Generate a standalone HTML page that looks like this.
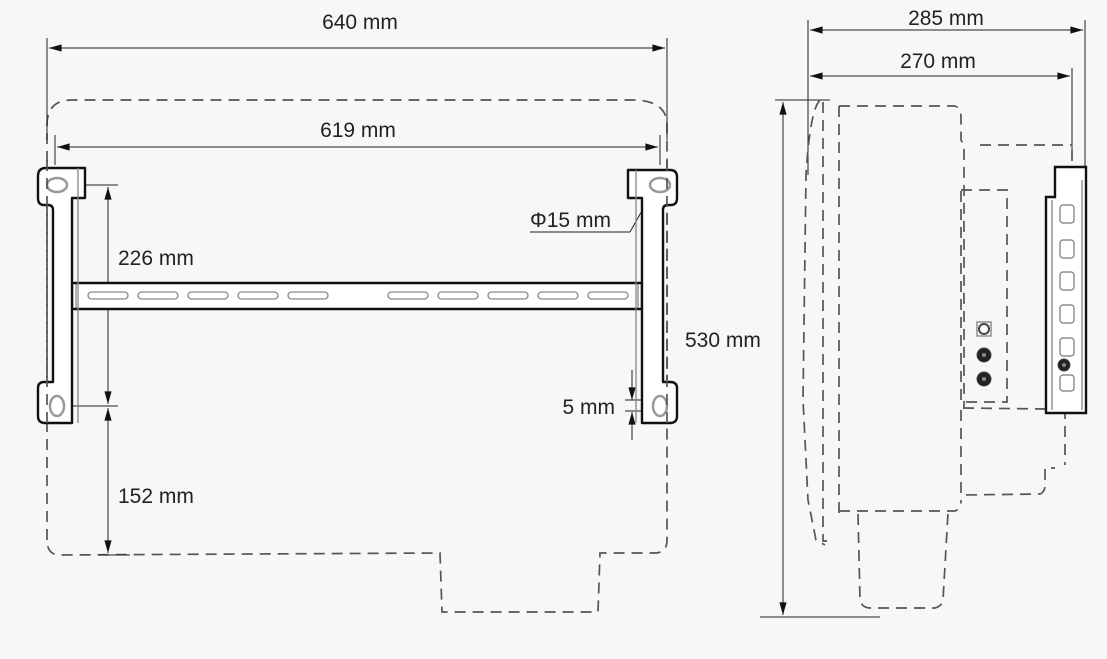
<!DOCTYPE html>
<html><head><meta charset="utf-8"><style>
html,body{margin:0;padding:0;background:#f7f7f7;}
svg{display:block;font-family:"Liberation Sans",sans-serif;}
</style></head><body>
<svg width="1107" height="659" viewBox="0 0 1107 659" xmlns="http://www.w3.org/2000/svg">
<defs>
<marker id="a" viewBox="0 0 14 10" refX="14" refY="5" markerWidth="14" markerHeight="9" orient="auto-start-reverse" markerUnits="userSpaceOnUse"><path d="M0,1 L14,5 L0,9 z" fill="#111"/></marker>
</defs>
<rect width="1107" height="659" fill="#f7f7f7"/>
<g fill="none" stroke="#555" stroke-width="1.7" stroke-dasharray="11,7">
<path d="M47,540 L47,125 Q47,100 72,100 L632,100 Q667,100 667,125 L667,540 Q667,553 655,553 L600,553 L598,612 L442,612 L440,553 L60,555 Q47,555 47,540"/>
</g>
<g stroke="#222" stroke-width="1">
<line x1="47" y1="38" x2="47" y2="140"/><line x1="667" y1="38" x2="667" y2="140"/>
<line x1="49" y1="48" x2="665" y2="48" marker-start="url(#a)" marker-end="url(#a)"/>
<line x1="55" y1="135" x2="55" y2="165"/><line x1="660" y1="135" x2="660" y2="165"/>
<line x1="57" y1="147" x2="658" y2="147" marker-start="url(#a)" marker-end="url(#a)"/>
<line x1="85" y1="185" x2="118" y2="185"/><line x1="66" y1="406" x2="118" y2="406"/>
<line x1="108" y1="187" x2="108" y2="404" marker-start="url(#a)" marker-end="url(#a)"/>
<line x1="108" y1="408" x2="108" y2="553" marker-start="url(#a)" marker-end="url(#a)"/>
<line x1="98" y1="555" x2="130" y2="555"/>
<line x1="632" y1="370" x2="632" y2="400" marker-end="url(#a)"/>
<line x1="632" y1="440" x2="632" y2="412" marker-end="url(#a)"/>
<line x1="625" y1="400" x2="655" y2="400"/><line x1="625" y1="411" x2="655" y2="411"/>
<line x1="530" y1="232" x2="630" y2="232"/>
<line x1="630" y1="232" x2="652" y2="193" marker-end="url(#a)"/>
</g>
<g fill="#fff" stroke="#111" stroke-width="2.4" stroke-linejoin="round">
<path d="M72,283 L642,283 L642,309 L72,309 Z"/>
<path d="M46,168 L85,168 L85,198 L72,198 L72,423 L45,423 Q38,423 38,416 L38,388 Q38,382 44,382 L53,382 L53,210 Q53,205 48,205 L44,205 Q38,205 38,198 L38,176 Q38,168 46,168 Z"/>
<path d="M670,170 L628,170 L628,198 L642,198 L642,423 L670,423 Q677,423 677,416 L677,388 Q677,382 670,382 L663,382 L663,210 Q663,205 668,205 L671,205 Q677,205 677,198 L677,177 Q677,170 670,170 Z"/>
</g>
<g fill="none" stroke="#888" stroke-width="1.3">
<line x1="78" y1="168" x2="78" y2="423"/><line x1="636" y1="170" x2="636" y2="423"/>
<line x1="76" y1="284" x2="76" y2="308"/><line x1="638" y1="284" x2="638" y2="308"/>
<rect x="88" y="292" width="40" height="7" rx="3.5"/><rect x="138" y="292" width="40" height="7" rx="3.5"/><rect x="188" y="292" width="40" height="7" rx="3.5"/><rect x="238" y="292" width="40" height="7" rx="3.5"/><rect x="288" y="292" width="40" height="7" rx="3.5"/>
<rect x="388" y="292" width="40" height="7" rx="3.5"/><rect x="438" y="292" width="40" height="7" rx="3.5"/><rect x="488" y="292" width="40" height="7" rx="3.5"/><rect x="538" y="292" width="40" height="7" rx="3.5"/><rect x="588" y="292" width="40" height="7" rx="3.5"/>
<ellipse cx="57" cy="185" rx="10" ry="7" stroke-width="2.5" stroke="#999"/><ellipse cx="57" cy="406" rx="7" ry="10" stroke-width="2.5" stroke="#999"/>
<ellipse cx="660" cy="185" rx="10" ry="7" stroke-width="2.5" stroke="#999"/><ellipse cx="660" cy="406" rx="7" ry="10" stroke-width="2.5" stroke="#999"/>
</g>
<g fill="none" stroke="#555" stroke-width="1.7" stroke-dasharray="11,7">
<line x1="47" y1="160" x2="47" y2="430"/><line x1="667" y1="160" x2="667" y2="430"/>
</g>
<g font-size="21" fill="#222">
<text x="360" y="29" text-anchor="middle">640 mm</text>
<text x="358" y="137" text-anchor="middle">619 mm</text>
<text x="118" y="265">226 mm</text>
<text x="118" y="503">152 mm</text>
<text x="615" y="414" text-anchor="end">5 mm</text>
<text x="530" y="227">Φ15 mm</text>
<text x="685" y="347">530 mm</text>
<text x="946" y="25" text-anchor="middle">285 mm</text>
<text x="938" y="68" text-anchor="middle">270 mm</text>
</g>
<g stroke="#222" stroke-width="1">
<line x1="808" y1="20" x2="808" y2="175"/><line x1="1085" y1="20" x2="1085" y2="166"/>
<line x1="810" y1="30" x2="1083" y2="30" marker-start="url(#a)" marker-end="url(#a)"/>
<line x1="1072" y1="68" x2="1072" y2="158"/>
<line x1="810" y1="76" x2="1070" y2="76" marker-start="url(#a)" marker-end="url(#a)"/>
<line x1="775" y1="100" x2="830" y2="100"/><line x1="760" y1="617" x2="880" y2="617"/>
<line x1="783" y1="102" x2="783" y2="615" marker-start="url(#a)" marker-end="url(#a)"/>
</g>
<g fill="none" stroke="#555" stroke-width="1.7" stroke-dasharray="11,7">
<path d="M820,100 Q810,110 806,175 L803,400 L808,500 L816,540 L825,545"/>
<path d="M823,102 L823,541 L833,541"/>
<path d="M839,106 L955,106 Q961,108 961,118 L961,140 L964,145 L964,408"/>
<path d="M980,145 L1072,145"/>
<path d="M961,410 L961,495 L1040,494 Q1045,492 1045,485 L1045,468 L1055,468"/>
<path d="M1065,408 L1065,465"/>
<rect x="961" y="190" width="46" height="212"/>
<path d="M963,408 L1048,409"/>
<path d="M839,106 L839,516"/>
<path d="M839,511 L955,511 Q961,509 961,500"/>
<path d="M858,514 L860,600 Q862,608 870,608 L935,608 Q942,606 943,600 L948,513"/>
<line x1="1072" y1="150" x2="1072" y2="410"/>
</g>
<g fill="#fff" stroke="#111" stroke-width="2.4">
<path d="M1055,167 L1086,167 L1086,413 L1046,413 L1046,197 L1055,197 Z"/>
</g>
<g fill="none" stroke="#777" stroke-width="1.2">
<rect x="1060" y="205" width="14" height="18" rx="3"/><rect x="1060" y="240" width="14" height="18" rx="3"/><rect x="1060" y="272" width="14" height="18" rx="3"/><rect x="1060" y="305" width="14" height="18" rx="3"/><rect x="1060" y="338" width="14" height="18" rx="3"/><rect x="1060" y="375" width="14" height="16" rx="3"/>
<line x1="1052" y1="200" x2="1052" y2="410"/><line x1="1082" y1="180" x2="1082" y2="410"/>
<rect x="977" y="322" width="14" height="14"/>
</g>
<g fill="#222" stroke="#444">
<circle cx="984" cy="329" r="5" fill="#fff" stroke-width="2"/>
<circle cx="984" cy="355" r="7"/><circle cx="984" cy="379" r="7"/><circle cx="1064" cy="365" r="6"/>
</g>
<g fill="#888"><circle cx="984" cy="355" r="2"/><circle cx="984" cy="379" r="2"/><circle cx="1064" cy="365" r="2"/></g>
</svg>
</body></html>
